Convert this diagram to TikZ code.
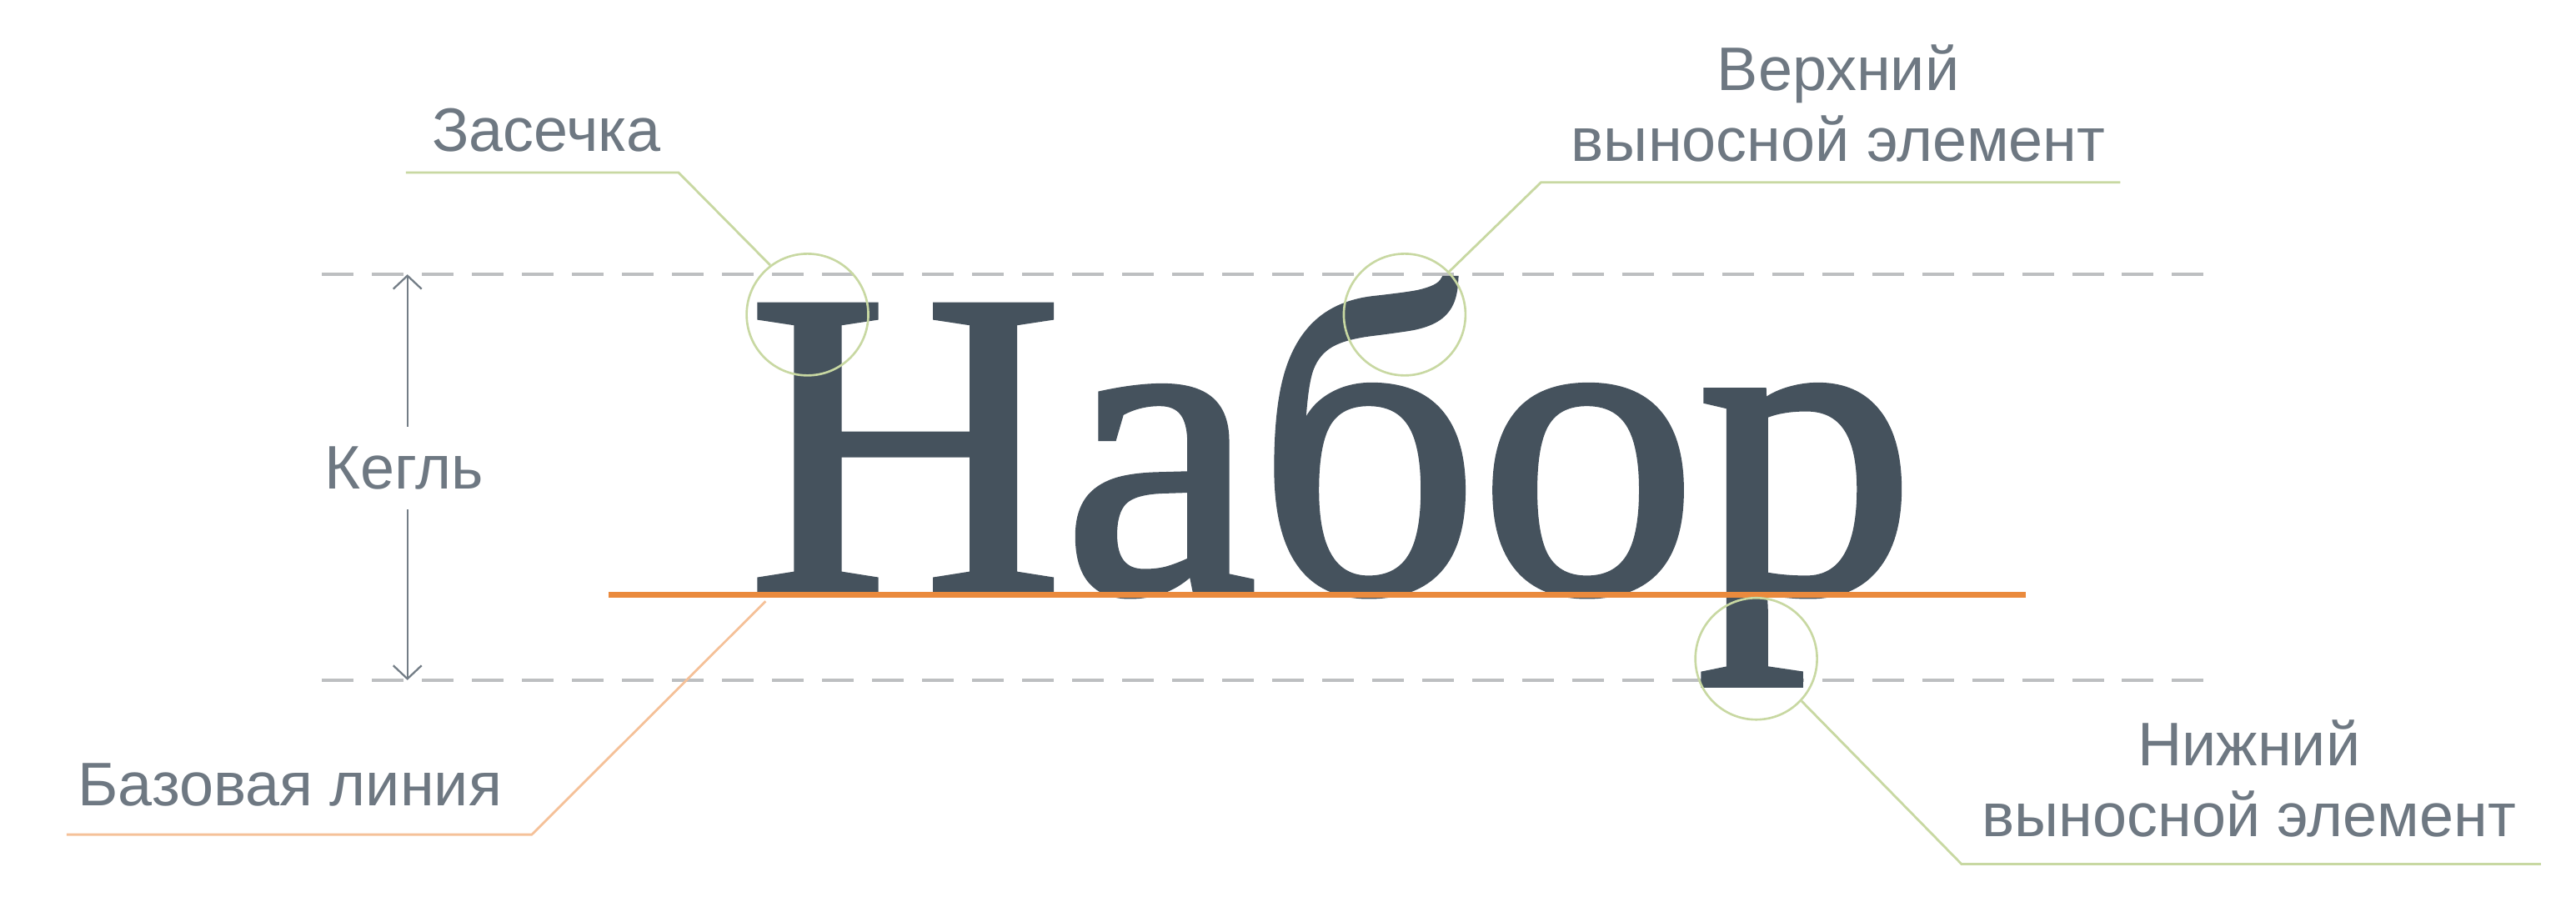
\documentclass[tikz,border=0pt]{standalone}
\usepackage{fontspec}
\setmainfont{Liberation Sans}
\newfontfamily\wordfont[FakeBold=1.5]{Liberation Serif}
\usetikzlibrary{arrows.meta,positioning,calc}
\definecolor{Ink}{HTML}{45525D}
\definecolor{Caption}{HTML}{6E7882}
\definecolor{Guide}{HTML}{BDBFC1}
\definecolor{Measure}{HTML}{737D86}
\definecolor{Base}{HTML}{EA8A3D}
\definecolor{BaseSoft}{HTML}{F5C199}
\definecolor{Leaf}{HTML}{C8D8A2}
\tikzset{
  caption/.style={text=Caption,font=\fontsize{21}{24}\selectfont,align=center,inner sep=0pt},
  ring/.style={draw=Leaf,line width=.75pt,circle,minimum size=1.46cm,inner sep=0pt},
  leader/.style={draw=Leaf,line width=.8pt},
  baseleader/.style={draw=BaseSoft,line width=.8pt},
  guideline/.style={draw=Guide,line width=1.2pt,dash pattern=on .38cm off .22cm},
  measure/.style={draw=Measure,line width=.65pt,-{Straight Barb[length=1.6mm,width=3.4mm]}},
  baserule/.style={draw=Base,line width=2.2pt}
}
\begin{document}
\begin{tikzpicture}[x=0.019707cm,y=-0.019707cm]
      \useasboundingbox (0,0) rectangle (1568,549);
      % guides: body size
      \coordinate (guideTL) at (196,167);
      \coordinate (guideTR) at (1350,167);
      \coordinate (guideBL) at (196,414);
      \coordinate (guideBR) at (1350,414);
      \draw[guideline] (guideTL) -- (guideTR);
      \draw[guideline] (guideBL) -- (guideBR);
      % the word
      \node[anchor=base west,inner sep=0pt,text=Ink,font=\wordfont\fontsize{149}{150}\selectfont] (word) at (455,360) {Набор};
      \coordinate (ruleL) at (370.6,362);
      \coordinate (ruleR) at (1233,362);
      \draw[baserule] (ruleL) -- (ruleR);
      % size arrow
      \node[caption,minimum height=.98cm] (kegl) at (246,285) {Кегль};
      \coordinate (keglTop) at (248,167);
      \coordinate (keglBot) at (248,414);
      \draw[measure] (kegl.north -| keglTop) -- (keglTop);
      \draw[measure] (kegl.south -| keglBot) -- (keglBot);
      % rings
      \node[ring] (serif) at (491.5,191.5) {};
      \node[ring] (ascender) at (855,191.5) {};
      \node[ring] (descender) at (1069,401) {};
      % leaders
      \coordinate (serifEnd) at (247,105);
      \coordinate (serifBend) at (413,105);
      \draw[leader] (serifEnd) -- (serifBend) -- (serif.127);
      \coordinate (ascBend) at (938,111);
      \coordinate (ascEnd) at (1290.6,111);
      \draw[leader] (ascender.44) -- (ascBend) -- (ascEnd);
      \coordinate (descBend) at (1194,526);
      \coordinate (descEnd) at (1546.6,526);
      \draw[leader] (descender.-43) -- (descBend) -- (descEnd);
      \coordinate (baseHit) at (466,366);
      \coordinate (baseBend) at (323.7,508);
      \coordinate (baseEnd) at (40.5,508);
      \draw[baseleader] (baseHit) -- (baseBend) -- (baseEnd);
      % captions
      \node[caption,anchor=base] (serifLabel) at (332.5,92.3) {Засечка};
      \node[caption,anchor=base] (ascLabel) at (1119,98) {Верхний\\выносной элемент};
      \node[caption,anchor=base] (baseLabel) at (176.5,490.5) {Базовая линия};
      \node[caption,anchor=base] (descLabel) at (1369,509) {Нижний\\выносной элемент};
    \end{tikzpicture}
\end{document}
